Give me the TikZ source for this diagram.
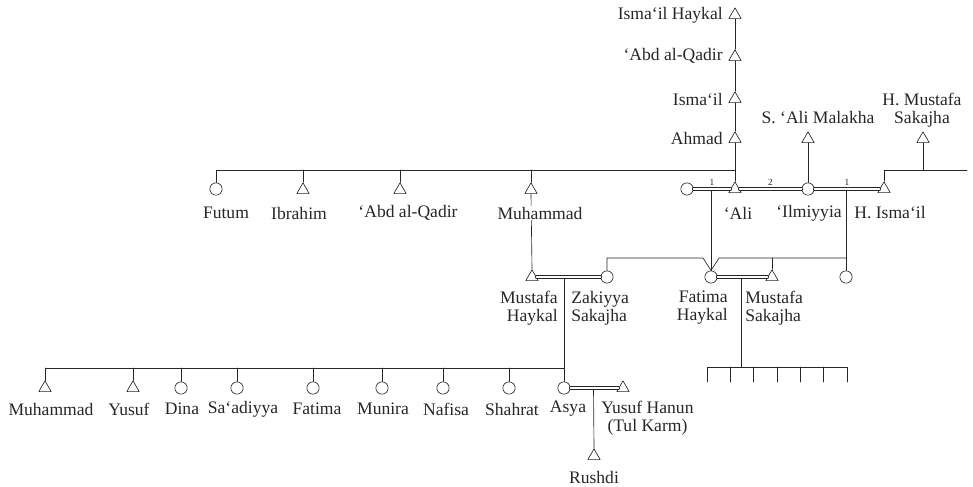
\documentclass[tikz,border=0pt]{standalone}
\usepackage{fontspec}
\setmainfont{Liberation Serif}
\usetikzlibrary{shapes.geometric,calc}
\begin{document}
\begin{tikzpicture}[x=0.03cm,y=-0.03cm,line join=round,line cap=round,
    color=black!85,line width=0.55pt,font=\fontsize{15}{15.5}\selectfont,
    male/.style={regular polygon,regular polygon sides=3,draw,minimum size=0.43cm,inner sep=0pt},
    female/.style={circle,draw,minimum size=0.37cm,inner sep=0pt},
    lbl/.style={inner sep=0pt},
    wed/.style={double,double distance=1.6pt},
    num/.style={font=\fontsize{8}{8}\selectfont,inner sep=0pt,above=2.5pt}]
\useasboundingbox (0,0) rectangle (973,487);
% ancestors
\node[male] (ih) at (735,15) {};
\node[lbl,anchor=east] (ihl) at (723,15) {Isma‘il Haykal};
\node[male] (aq) at (735,57) {};
\node[lbl,anchor=east] (aql) at (723,56) {‘Abd al-Qadir};
\node[male] (is) at (735,99) {};
\node[lbl,anchor=east] (isl) at (723,99) {Isma‘il};
\node[male] (ah) at (735,139) {};
\node[lbl,anchor=east] (ahl) at (723,138) {Ahmad};
\node[male] (sm) at (808,139) {};
\node[lbl] (sml) at (818,118) {S. ‘Ali Malakha};
\node[male] (hm) at (923,139) {};
\node[lbl,align=center] (hml) at (922,110) {H. Mustafa\\Sakajha};
% second generation
\node[female] (fu) at (216,189) {};
\node[male] (ib) at (303,190) {};
\node[male] (aq2) at (400,190) {};
\node[male] (mu) at (531,190) {};
\node[female] (w1) at (687,189) {};
\node[male] (al) at (735,189) {};
\node[female] (il) at (808,189) {};
\node[male] (hi) at (884,189) {};
\coordinate (s1) at (735,170);
\coordinate (s2) at (967,170);
\draw (ih.south) -- (aq.north) (aq.south) -- (is.north) (is.south) -- (ah.north) (ah.south) -- (al.north);
\draw (fu.north) |- (s1);
\foreach \n in {ib,aq2,mu}
  \draw (\n.north) -- (\n.north |- s1);
\draw (hi.north) |- (s2);
\draw (hm.south) -- (hm.south |- s2);
\draw (sm.south) -- (il.north);
% third generation
\node[male] (mh) at (532,277) {};
\node[female] (zk) at (607,277) {};
\node[female] (fh) at (711,277) {};
\node[male] (ms) at (772,277) {};
\node[female] (rc) at (846,277) {};
\coordinate (m1) at ($(w1)!.5!(al)$);
\coordinate (m3) at ($(il)!.5!(hi)$);
\coordinate (d1) at (703,258);
\coordinate (d2) at (719,258);
\coordinate (s3) at (846,258);
\draw (m1) -- (fh.north);
\draw (m3) -- (rc.north);
\draw (zk.north) |- (d1) -- (fh.north) -- (d2) -- (s3);
\draw (ms.north) -- (ms.north |- s3);
\draw (mu.south) -- (mh.north);
\draw[wed] (w1) -- (al) node[num,midway] {1};
\draw[wed] (al) -- (il) node[num,midway] {2};
\draw[wed] (il) -- (hi) node[num,midway] {1};
\node[lbl] (ful) at (226,213) {Futum};
\node[lbl] (ibl) at (299,213) {Ibrahim};
\node[lbl] (aq2l) at (408,213) {‘Abd al-Qadir};
\node[lbl,fill=white,inner sep=1pt] (mul) at (540,213) {Muhammad};
\node[lbl] (all) at (738,213) {‘Ali};
\node[lbl] (ill) at (809,213) {‘Ilmiyyia};
\node[lbl] (hil) at (890,213) {H. Isma‘il};
\node[lbl,align=right,anchor=east] (mhl) at (558,308) {Mustafa\\Haykal};
\node[lbl,align=left,anchor=west] (zkl) at (571,308) {Zakiyya\\Sakajha};
\node[lbl,align=right,anchor=east] (fhl) at (728,308) {Fatima\\Haykal};
\node[lbl,align=left,anchor=west] (msl) at (745,308) {Mustafa\\Sakajha};
% fourth generation
\coordinate (m4) at (564,277);
\coordinate (s4) at (564,368);
\coordinate (m5) at ($(fh)!.5!(ms)$);
\coordinate (c1) at (707,367);
\coordinate (c2) at (847,367);
\draw (m4) -- (s4);
\draw (m5) -- (m5 |- c1);
\draw (c1) ++(0,15) |- (c2) -- ++(0,15);
\foreach \x in {730,753,777,800,823}
  \draw (\x,367) -- (\x,382);
\foreach \n/\x/\s/\lx/\t in {bmu/45/male/51/Muhammad,byu/133/male/129/Yusuf,
    bdi/181/female/182/Dina,bsa/237/female/243/Sa‘adiyya,bfa/313/female/317/Fatima,
    bmn/382/female/383/Munira,bna/443/female/446/Nafisa,bsh/509/female/512/Shahrat,
    as/564/female/568/Asya}{
  \node[\s] (\n) at (\x,388) {};
  \node[lbl] (\n l) at (\lx,409) {\t};
  \draw (\n.north) -- (\n.north |- s4);
}
\draw (bmu.north) |- (s4);
\node[male] (yh) at (623,388) {};
\node[male] (rs) at (594,456) {};
\coordinate (m6) at ($(as)!.5!(yh)$);
\draw (m6) -- (rs.north);
\draw[wed] (mh) -- (zk);
\draw[wed] (fh) -- (ms);
\draw[wed] (as) -- (yh);
\node[lbl,align=center,anchor=west] (yhl) at (601,418) {Yusuf Hanun\\(Tul Karm)};
\node[lbl] (rsl) at (594,477) {Rushdi};
\end{tikzpicture}
\end{document}
